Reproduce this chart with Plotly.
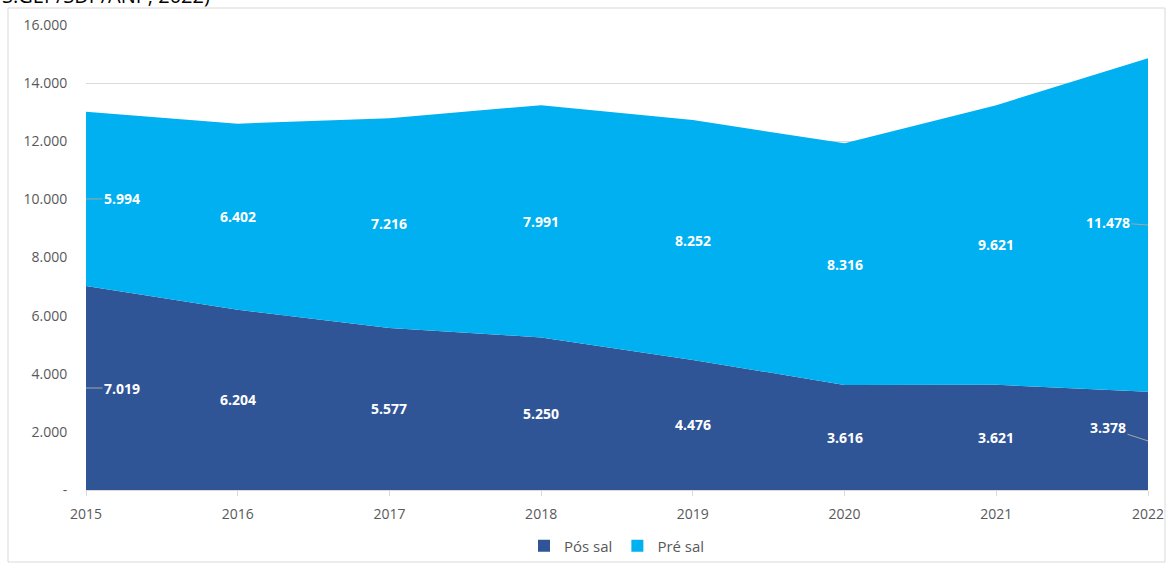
import plotly.graph_objects as go

years = [2015, 2016, 2017, 2018, 2019, 2020, 2021, 2022]
pos_sal = [7019, 6204, 5577, 5250, 4476, 3616, 3621, 3378]
pre_sal = [5994, 6402, 7216, 7991, 8252, 8316, 9621, 11478]
y_ticks = [0, 2000, 4000, 6000, 8000, 10000, 12000, 14000, 16000]
y_tick_labels = ["-", "2.000", "4.000", "6.000", "8.000", "10.000", "12.000", "14.000", "16.000"]
series_names = ["Pós sal", "Pré sal"]
colors = ["#2F5597", "#00B0F0"]

def fmt(v):
    return f"{v:,}".replace(",", ".")

fig = go.Figure()
fig.add_trace(go.Scatter(x=years, y=pos_sal, stackgroup="one", mode="none",
                         fillcolor=colors[0], name=series_names[0], showlegend=False,
                         hoverinfo="skip"))
fig.add_trace(go.Scatter(x=years, y=pre_sal, stackgroup="one", mode="none",
                         fillcolor=colors[1], name=series_names[1], showlegend=False,
                         hoverinfo="skip"))
for n, c in zip(series_names, colors):
    fig.add_trace(go.Scatter(x=[None], y=[None], mode="markers", name=n,
                             marker=dict(symbol="square", size=11, color=c)))

lab_font = dict(family="Open Sans", size=14, color="white")
n = len(years)
for i, (yr, a, b) in enumerate(zip(years, pos_sal, pre_sal)):
    for val, mid, extra in [(a, a / 2, -10), (b, a + b / 2, 0)]:
        if i == 0:
            fig.add_annotation(x=yr, y=mid, text=f"<b>{fmt(val)}</b>", font=lab_font,
                               showarrow=True, arrowhead=0, arrowwidth=1, arrowcolor="#A6A6A6",
                               ax=36, ay=0, xanchor="center")
        elif i == n - 1:
            fig.add_annotation(x=yr, y=mid, text=f"<b>{fmt(val)}</b>", font=lab_font,
                               showarrow=True, arrowhead=0, arrowwidth=1, arrowcolor="#A6A6A6",
                               ax=-40, ay=extra - 3, xanchor="center")
        else:
            fig.add_annotation(x=yr, y=mid, text=f"<b>{fmt(val)}</b>", font=lab_font,
                               showarrow=False)

fig.add_annotation(xref="paper", yref="paper", x=-0.081, y=1, yshift=14,
                   xanchor="left", yanchor="bottom", showarrow=False,
                   text="S.GEP/SDP/ANP, 2022)", font=dict(family="Open Sans", size=20, color="black"))

fig.add_shape(type="rect", xref="paper", yref="paper",
              x0=(8 - 86) / 1062, x1=(1165 - 86) / 1062, y0=(490 - 562) / 465, y1=(490 - 8) / 465,
              line=dict(color="#D9D9D9", width=1), fillcolor="rgba(0,0,0,0)", layer="below")

fig.update_layout(
    width=1170, height=563, autosize=False,
    margin=dict(l=86, r=22, t=25, b=73),
    paper_bgcolor="white", plot_bgcolor="white",
    font=dict(family="Open Sans", color="#595959"),
    legend=dict(orientation="h", x=0.5, xanchor="center", y=1 - 546 / 563, yanchor="middle",
                yref="container", traceorder="normal", bgcolor="rgba(0,0,0,0)",
                font=dict(size=15, color="#595959"), itemsizing="constant"),
    xaxis=dict(range=[2015, 2022], tickvals=years, ticktext=[str(y) for y in years],
               showgrid=False, showline=True, linecolor="#D9D9D9", ticks="outside",
               ticklen=5, tickcolor="#D9D9D9", tickfont=dict(size=14, color="#595959"),
               ticklabelstandoff=6, zeroline=False, automargin=False),
    yaxis=dict(range=[0, 16000], tickvals=y_ticks, ticktext=y_tick_labels,
               showgrid=True, gridcolor="#D9D9D9", zeroline=False, showline=False,
               ticks="outside", ticklen=15, tickcolor="rgba(0,0,0,0)",
               tickfont=dict(size=14, color="#595959"), automargin=False),
)

fig.write_html("out.html",
               config={"responsive": False, "displayModeBar": False},
               post_script="document.body.style.margin='0';document.body.style.overflow='hidden';")
